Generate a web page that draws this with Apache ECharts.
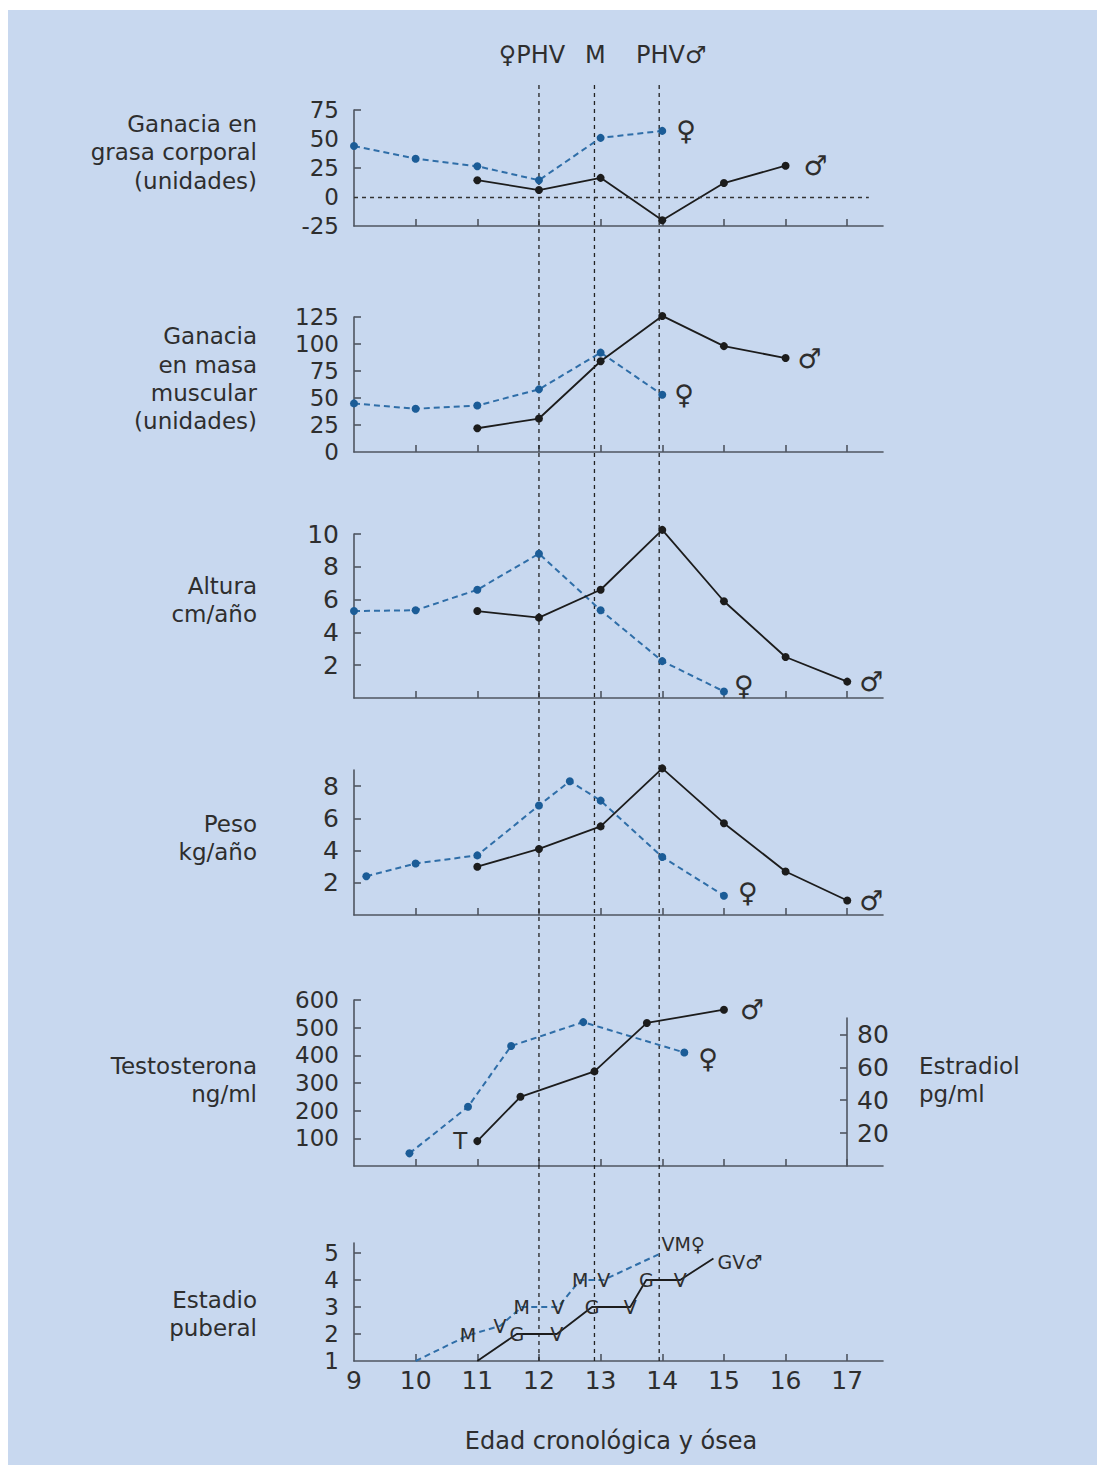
<!DOCTYPE html>
<html><head><meta charset="utf-8">
<script src="https://cdn.jsdelivr.net/npm/echarts@6/dist/echarts.min.js"></script>
<style>html,body{margin:0;padding:0;background:#fff;} #c{width:1099px;height:1468px;}</style>
</head><body><div id="c"></div>
<script>
// ---------------- data ----------------
const xTickVals = [10, 11, 12, 13, 14, 15, 16, 17];
const xLabelVals = [9, 10, 11, 12, 13, 14, 15, 16, 17];
const refLines = [12, 12.9, 13.95];          // ♀PHV, M, PHV♂
const refLabels = ['♀PHV', 'M', 'PHV♂'];

// Ganacia en grasa corporal
const grasaFemX = [9, 10, 11, 12, 13, 14];
const grasaFem  = [44, 33, 26.5, 14.5, 51, 57];
const grasaMalX = [11, 12, 13, 14, 15, 16];
const grasaMal  = [14.5, 6, 16.5, -20, 12, 27];

// Ganacia en masa muscular
const masaFemX = [9, 10, 11, 12, 13, 14];
const masaFem  = [45, 40, 43, 58, 92, 53];
const masaMalX = [11, 12, 13, 14, 15, 16];
const masaMal  = [22, 31, 84, 126, 98, 87];

// Altura cm/año
const alturaFemX = [9, 10, 11, 12, 13, 14, 15];
const alturaFem  = [5.3, 5.35, 6.6, 8.8, 5.35, 2.25, 0.4];
const alturaMalX = [11, 12, 13, 14, 15, 16, 17];
const alturaMal  = [5.3, 4.9, 6.6, 10.25, 5.9, 2.5, 1.0];

// Peso kg/año
const pesoFemX = [9.2, 10, 11, 12, 12.5, 13, 14, 15];
const pesoFem  = [2.4, 3.2, 3.7, 6.8, 8.3, 7.1, 3.6, 1.2];
const pesoMalX = [11, 12, 13, 14, 15, 16, 17];
const pesoMal  = [3.0, 4.1, 5.5, 9.1, 5.7, 2.7, 0.9];

// Testosterona ng/ml (♂) and Estradiol pg/ml (♀)
const testoX = [11, 11.7, 12.9, 13.75, 15];
const testo  = [90, 250, 342, 517, 565];
const estradiolX = [9.9, 10.85, 11.55, 12.72, 14.36];
const estradiol  = [7.7, 36, 73, 87.5, 69];

// Estadio puberal
const estadioFemX = [10, 10.85, 11.37, 11.72, 12.31, 12.67, 13.05, 13.94];
const estadioFem  = [1, 1.95, 2.3, 3, 3, 4, 4, 4.95];
const estadioFemLbl = ['', 'M', 'V', 'M', 'V', 'M', 'V', 'VM♀'];
const estadioMalX = [11, 11.64, 12.29, 12.86, 13.48, 13.74, 14.29, 14.83];
const estadioMal  = [1, 2, 2, 3, 3, 4, 4, 4.8];
const estadioMalLbl = ['', 'G', 'V', 'G', 'V', 'G', 'V', 'GV♂'];

// ---------------- styling ----------------
const FONT = '"DejaVu Sans", "Noto Sans", sans-serif';
const SYMF = '"DejaVu Sans", "Noto Sans", sans-serif';
const TXT = '#2e2e2e';
const AX = '#4f5661';
const BLUE_LINE = '#2f6ea8', BLUE_DOT = '#1b5c97', BLACK = '#1c1c1c';
const BG = '#c8d8ef';

const chart = echarts.init(document.getElementById('c'), null, {renderer: 'svg', width: 1099, height: 1468});

function pairs(xs, ys) { return xs.map((x, i) => [x, ys[i]]); }
function withEnd(data, text, extra) {
  const d = data.slice();
  const last = d[d.length - 1];
  d[d.length - 1] = {value: last, label: Object.assign({show: true, formatter: text, position: 'right', distance: 10,
    fontSize: 27, fontFamily: SYMF, color: TXT}, extra || {})};
  return d;
}
function withFirst(data, text, extra) {
  const d = data.slice();
  d[0] = {value: d[0], label: Object.assign({show: true, formatter: text, position: 'left', distance: 6,
    fontSize: 23, fontFamily: FONT, color: TXT}, extra || {})};
  return d;
}

const L = 354, W = 529;
const grids = [
  {left: L, width: W, top: 110, height: 116},   // 0 grasa
  {left: L, width: W, top: 317, height: 135},   // 1 masa
  {left: L, width: W, top: 534, height: 164},   // 2 altura
  {left: L, width: W, top: 770, height: 145},   // 3 peso
  {left: L, width: W, top: 1000, height: 166},  // 4 testosterona
  {left: L, width: 493, top: 1018, height: 148},// 5 estradiol (right axis at 17)
  {left: L, width: W, top: 1243, height: 118}   // 6 estadio
];

function xAx(i, showLabel) {
  return {type: 'value', gridIndex: i, min: 9, max: 17.58, interval: 1,
    axisLine: {onZero: false, lineStyle: {color: AX, width: 1.6}},
    axisTick: {inside: true, length: 7, lineStyle: {color: AX, width: 1.6}, customValues: xTickVals},
    axisLabel: {show: showLabel, customValues: xLabelVals, margin: 7, fontSize: 25, color: TXT, fontFamily: FONT,
      formatter: v => Number.isInteger(v) ? String(v) : ''},
    splitLine: {show: false}};
}
function yAx(i, min, max, labels, ticks, size, extra) {
  return Object.assign({type: 'value', gridIndex: i, min: min, max: max,
    axisLine: {show: true, onZero: false, lineStyle: {color: AX, width: 1.6}},
    axisTick: {show: true, inside: true, length: 7, lineStyle: {color: AX, width: 1.6}, customValues: ticks},
    axisLabel: {customValues: labels, margin: 15, fontSize: size, color: TXT, fontFamily: FONT},
    splitLine: {show: false}}, extra || {});
}

const xAxes = [xAx(0, false), xAx(1, false), xAx(2, false), xAx(3, false), xAx(4, false),
  {type: 'value', gridIndex: 5, min: 9, max: 17, show: false}, xAx(6, true)];
const yAxes = [
  yAx(0, -25, 75, [-25, 0, 25, 50, 75], [25, 75], 23),
  yAx(1, 0, 125, [0, 25, 50, 75, 100, 125], [25, 50, 75, 100, 125], 23),
  yAx(2, 0, 10, [2, 4, 6, 8, 10], [2, 4, 6, 8, 10], 25),
  yAx(3, 0, 9, [2, 4, 6, 8], [2, 4, 6, 8], 25),
  yAx(4, 0, 600, [100, 200, 300, 400, 500, 600], [100, 200, 300, 400, 500, 600], 23),
  yAx(5, 0, 90, [20, 40, 60, 80], [20, 40, 60, 80], 25, {position: 'right'}),
  yAx(6, 1, 5.37, [1, 2, 3, 4, 5], [2, 3, 4, 5], 23)
];
yAxes[5].axisLabel.margin = 10;

function blue(i, data) {
  return {type: 'line', xAxisIndex: i, yAxisIndex: i, data: data, clip: false, z: 3,
    symbol: 'circle', symbolSize: 8, itemStyle: {color: BLUE_DOT},
    lineStyle: {color: BLUE_LINE, width: 2, type: [6, 4]}};
}
function black(i, data) {
  return {type: 'line', xAxisIndex: i, yAxisIndex: i, data: data, clip: false, z: 4,
    symbol: 'circle', symbolSize: 8, itemStyle: {color: BLACK},
    lineStyle: {color: BLACK, width: 1.8}};
}
function stage(i, xs, ys, lbls, color, dashed, endExtra) {
  const data = xs.map((x, k) => {
    const t = lbls[k];
    const isEnd = k === xs.length - 1;
    return {value: [x, ys[k]], label: Object.assign({show: t !== '', formatter: t,
      position: isEnd ? 'right' : 'inside', fontSize: 19, fontFamily: FONT, color: TXT},
      isEnd ? endExtra : {})};
  });
  return {type: 'line', xAxisIndex: i, yAxisIndex: i, data: data, clip: false, z: 3,
    symbol: 'circle', symbolSize: 2, showSymbol: true, itemStyle: {color: 'rgba(0,0,0,0)'},
    lineStyle: {color: color, width: dashed ? 2 : 1.8, type: dashed ? [6, 4] : 'solid'}};
}

const series = [
  Object.assign(blue(0, withEnd(pairs(grasaFemX, grasaFem), '♀', {distance: 10})), {
    markLine: {silent: true, symbol: 'none', label: {show: false},
      lineStyle: {color: '#333', width: 1.3, type: [4, 4]},
      data: [[{coord: [9, 0]}, {coord: [17.35, 0]}]]}}),
  black(0, withEnd(pairs(grasaMalX, grasaMal), '♂', {distance: 14})),
  blue(1, withEnd(pairs(masaFemX, masaFem), '♀', {distance: 8})),
  black(1, withEnd(pairs(masaMalX, masaMal), '♂', {distance: 8})),
  blue(2, withEnd(pairs(alturaFemX, alturaFem), '♀', {distance: 6, offset: [0, -6]})),
  black(2, withEnd(pairs(alturaMalX, alturaMal), '♂', {distance: 8})),
  blue(3, withEnd(pairs(pesoFemX, pesoFem), '♀', {distance: 10, offset: [0, -3]})),
  black(3, withEnd(pairs(pesoMalX, pesoMal), '♂', {distance: 8})),
  black(4, withFirst(withEnd(pairs(testoX, testo), '♂', {distance: 12}), 'T')),
  Object.assign(blue(5, withEnd(pairs(estradiolX, estradiol), '♀', {distance: 10, offset: [0, 6]})), {xAxisIndex: 5, yAxisIndex: 5}),
  stage(6, estadioFemX, estadioFem, estadioFemLbl, BLUE_LINE, true, {distance: 2, offset: [0, -10]}),
  stage(6, estadioMalX, estadioMal, estadioMalLbl, BLACK, false, {distance: 3, offset: [0, 4]})
];

chart.setOption({
  animation: false,
  backgroundColor: '#ffffff',
  textStyle: {fontFamily: FONT},
  grid: grids, xAxis: xAxes, yAxis: yAxes, series: series
});

// ---------------- text & reference lines ----------------
function txt(text, x, y, align, size) {
  return {type: 'text', z: 10, silent: true,
    style: {text: text, x: x, y: y, fill: TXT, font: (size || 23) + 'px ' + FONT,
      textAlign: align, align: align, textVerticalAlign: 'middle', verticalAlign: 'middle'}};
}
const leftLabels = [
  ['Ganacia en', 124], ['grasa corporal', 152], ['(unidades)', 181],
  ['Ganacia', 336], ['en masa', 365], ['muscular', 393], ['(unidades)', 421],
  ['Altura', 586], ['cm/año', 614],
  ['Peso', 824], ['kg/año', 852],
  ['Testosterona', 1066], ['ng/ml', 1094],
  ['Estadio', 1300], ['puberal', 1328]
];
const graphics = [{type: 'rect', z: -10, silent: true, shape: {x: 8, y: 10, width: 1089, height: 1455}, style: {fill: BG}}];
leftLabels.forEach(l => graphics.push(txt(l[0], 257, l[1], 'right')));
graphics.push(txt('Estradiol', 919, 1066, 'left'));
graphics.push(txt('pg/ml', 919, 1094, 'left'));
graphics.push(txt('Edad cronológica y ósea', 611, 1441, 'center', 24));

const yTop = 85, yBot = chart.convertToPixel({xAxisIndex: 6, yAxisIndex: 6}, [9, 1])[1];
const labelShift = [-7, 1, 12];
refLines.forEach((v, k) => {
  const px = chart.convertToPixel({xAxisIndex: 0}, v);
  graphics.push({type: 'line', z: 1, silent: true, shape: {x1: px, y1: yTop, x2: px, y2: yBot},
    style: {stroke: '#222', lineWidth: 1.3, lineDash: [4, 4]}});
  graphics.push(txt(refLabels[k], px + labelShift[k], 55, 'center', 24));
});
chart.setOption({graphic: graphics});
</script></body></html>
